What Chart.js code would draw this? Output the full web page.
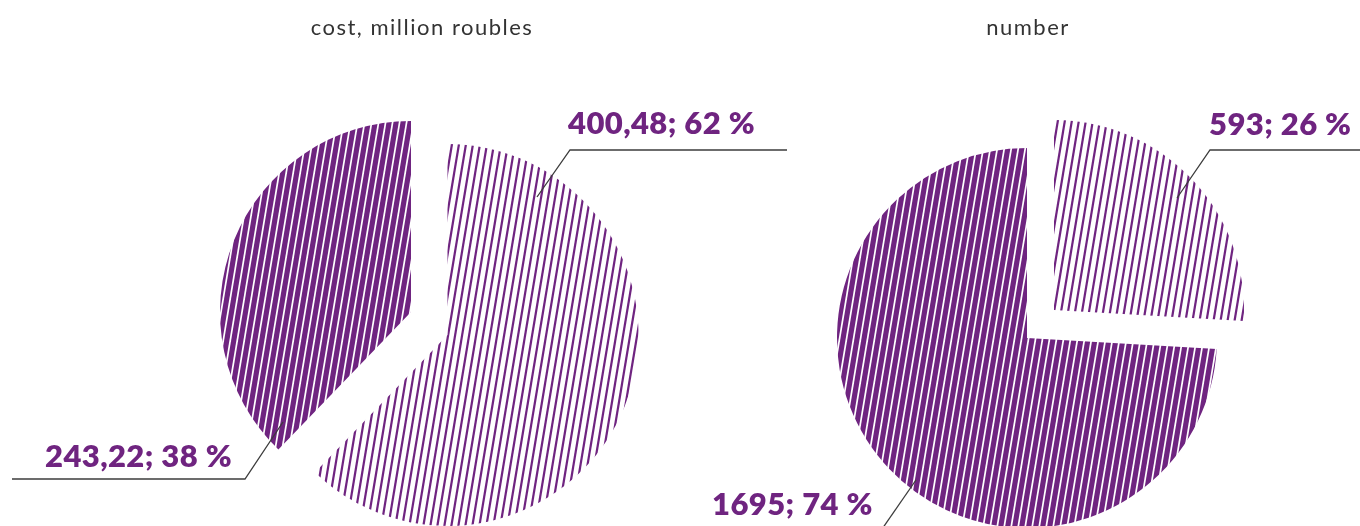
<!DOCTYPE html>
<html>
<head>
<meta charset="utf-8">
<script src="https://cdn.jsdelivr.net/npm/chart.js@4.4.1/dist/chart.umd.min.js"></script>
<style>
  html, body { margin: 0; padding: 0; background: #ffffff; overflow: hidden; }
  #wrap { position: relative; width: 1360px; height: 526px; }
  #wrap canvas { position: absolute; left: 0; top: 0; }
</style>
</head>
<body>
<div id="wrap">
  <canvas id="costChart" width="1360" height="526"></canvas>
  <canvas id="countChart" width="1360" height="526"></canvas>
</div>
<script>
// ---- data ----
const categories = ['first category', 'second category'];
const costValues = [400.48, 243.22];     // million roubles
const countValues = [593, 1695];         // number
const chartTitles = ['cost, million roubles', 'number'];

// ---- styles ----
const PURPLE = '#6f2480';
const LABEL_FONT = '800 31px Lato, "Open Sans", sans-serif';
const TITLE_FONT = '22px Lato, "Open Sans", sans-serif';

// diagonal stripe fill: period 7px, one period of drift every 42px
function stripes(canvas, bg, fg, lineW) {
  const w = 7, h = 42;
  const tile = document.createElement('canvas');
  tile.width = w; tile.height = h;
  const g = tile.getContext('2d');
  g.fillStyle = bg;
  g.fillRect(0, 0, w, h);
  g.strokeStyle = fg;
  g.lineWidth = lineW;
  for (const dx of [-w, 0, w]) {
    g.beginPath();
    g.moveTo(dx - 7 / 42, h + 1);
    g.lineTo(dx + w + 7 / 42, -1);
    g.stroke();
  }
  return canvas.getContext('2d').createPattern(tile, 'repeat');
}

function percentages(values) {
  const total = values.reduce((s, v) => s + v, 0);
  return values.map(v => Math.round(v / total * 100));
}

function labelTexts(values, fmt) {
  const pct = percentages(values);
  return values.map((v, i) => fmt(v) + '; ' + pct[i] + ' %');
}

// pulls each slice away from the pie centre by a small displacement
const explodePlugin = {
  id: 'explode',
  afterDatasetsUpdate(chart, args, opts) {
    const meta = chart.getDatasetMeta(0);
    meta.data.forEach((arc, i) => {
      const [dx, dy] = (opts.shifts || [])[i] || [0, 0];
      arc.x += dx;
      arc.y += dy;
    });
  }
};

// heading above each pie
const headingPlugin = {
  id: 'heading',
  afterDraw(chart, args, opts) {
    const ctx = chart.ctx;
    ctx.save();
    ctx.font = TITLE_FONT;
    ctx.letterSpacing = '1.5px';
    ctx.fillStyle = '#333333';
    ctx.textAlign = 'center';
    ctx.textBaseline = 'alphabetic';
    ctx.fillText(opts.text, opts.x, opts.y);
    ctx.restore();
  }
};

// value labels with leader lines
const calloutPlugin = {
  id: 'callouts',
  afterDatasetsDraw(chart, args, opts) {
    const ctx = chart.ctx;
    ctx.save();
    opts.items.forEach((item, i) => {
      ctx.strokeStyle = '#3c3c3c';
      ctx.lineWidth = 1.3;
      ctx.beginPath();
      item.leader.forEach(([x, y], k) => k ? ctx.lineTo(x, y) : ctx.moveTo(x, y));
      ctx.stroke();
      ctx.font = LABEL_FONT;
      ctx.letterSpacing = '0.4px';
      ctx.fillStyle = PURPLE;
      ctx.textAlign = 'left';
      ctx.textBaseline = 'alphabetic';
      ctx.fillText(opts.texts[i], item.x, item.y);
    });
    ctx.restore();
  }
};

function pieChart(canvasId, values, cfg) {
  const canvas = document.getElementById(canvasId);
  const fills = [
    stripes(canvas, '#ffffff', PURPLE, 2.2),
    stripes(canvas, PURPLE, '#ffffff', 1.7)
  ];
  return new Chart(canvas, {
    type: 'pie',
    data: {
      labels: categories,
      datasets: [{
        data: values,
        backgroundColor: fills,
        borderWidth: 0,
        clip: false
      }]
    },
    options: {
      responsive: false,
      animation: false,
      events: [],
      radius: cfg.radius,
      layout: { padding: cfg.padding },
      plugins: {
        legend: { display: false },
        tooltip: { enabled: false },
        explode: { shifts: cfg.shifts },
        heading: cfg.heading,
        callouts: { texts: cfg.texts, items: cfg.callouts }
      }
    },
    plugins: [explodePlugin, headingPlugin, calloutPlugin]
  });
}

const costTexts = labelTexts(costValues, v => v.toFixed(2).replace('.', ','));
const countTexts = labelTexts(countValues, v => String(v));

pieChart('costChart', costValues, {
  radius: 191,
  padding: { left: 0, right: 483, top: 128, bottom: 0 },
  shifts: [[9, 8], [-27.5, -15]],
  heading: { text: chartTitles[0], x: 422, y: 35 },
  texts: costTexts,
  callouts: [
    { x: 568, y: 134, leader: [[537, 197], [570, 150], [787, 150]] },
    { x: 45, y: 467, leader: [[283, 422], [245, 479], [12, 479]] }
  ]
});

pieChart('countChart', countValues, {
  radius: 190,
  padding: { left: 694, right: 0, top: 150, bottom: 0 },
  shifts: [[27, -28], [0, 0]],
  heading: { text: chartTitles[1], x: 1028, y: 35 },
  texts: countTexts,
  callouts: [
    { x: 1209, y: 135, leader: [[1177, 198], [1210, 150], [1360, 150]] },
    { x: 712, y: 515, leader: [[916, 480], [880, 532]] }
  ]
});
</script>
</body>
</html>
